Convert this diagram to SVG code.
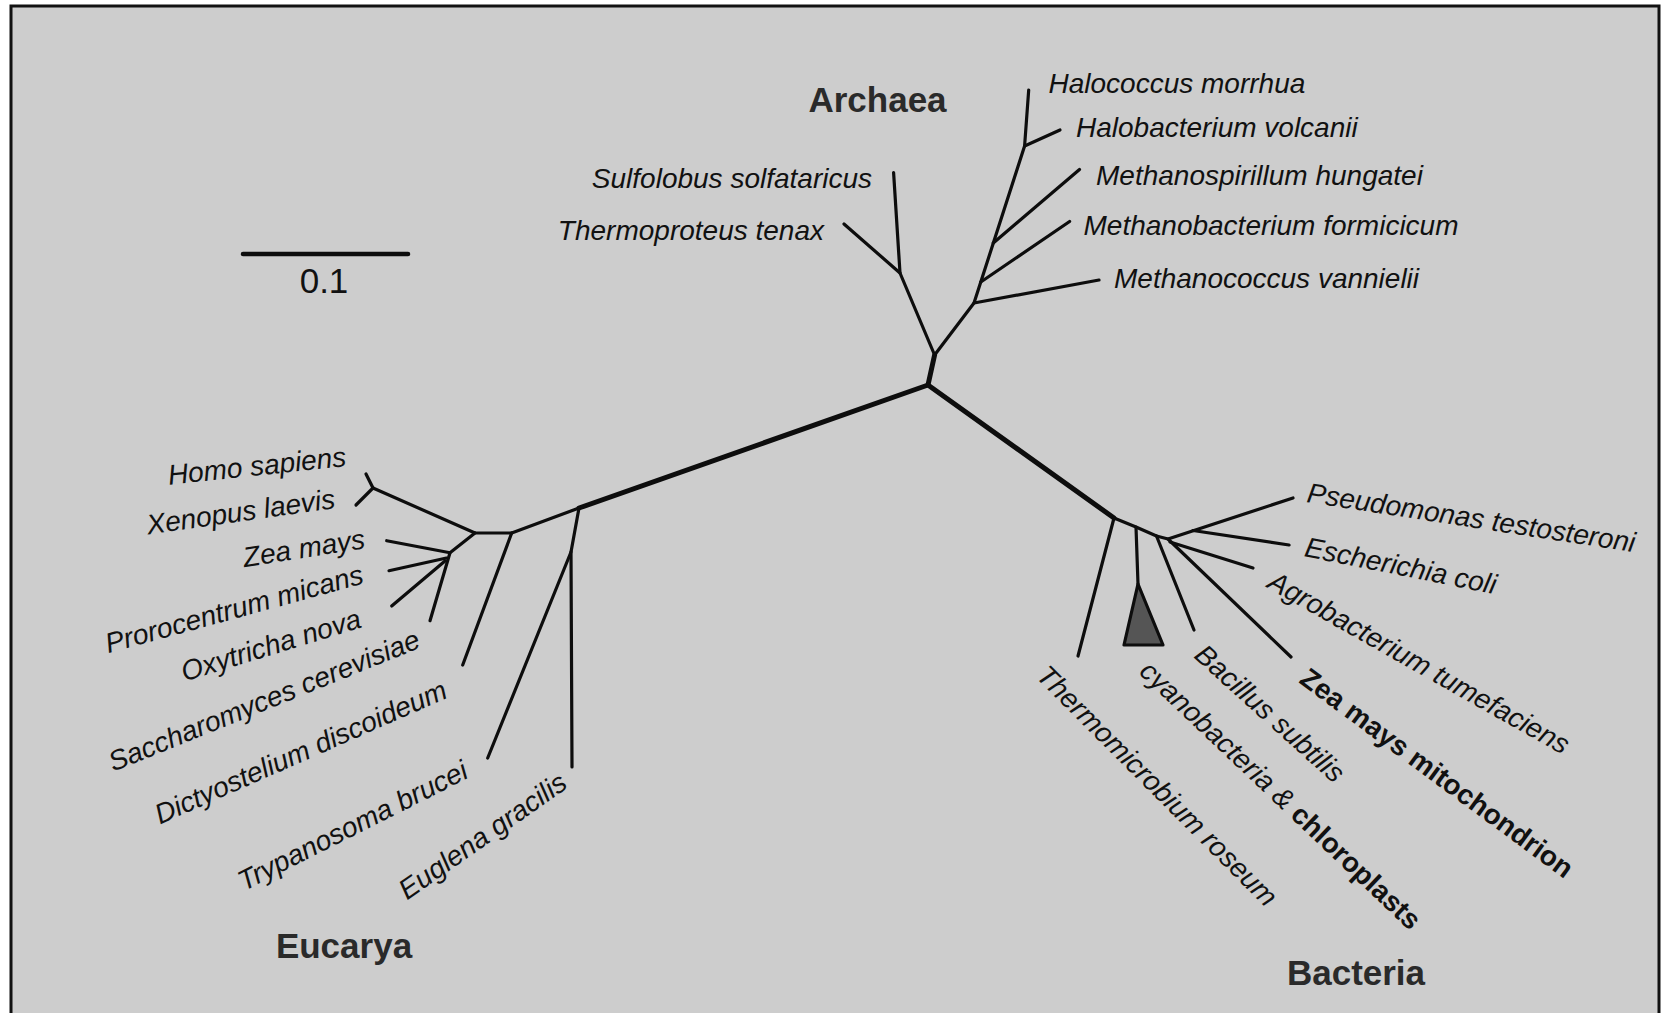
<svg xmlns="http://www.w3.org/2000/svg" width="1661" height="1013" viewBox="0 0 1661 1013">
  <style>
    .frame { fill: #cdcdcd; stroke: #111; stroke-width: 3; }
    .br { fill: none; stroke: #0d0d0d; stroke-width: 3.2; stroke-linecap: round; stroke-linejoin: round; }
    .trunk { fill: none; stroke: #0d0d0d; stroke-width: 5; stroke-linecap: round; stroke-linejoin: round; }
    .tri { fill: #555; stroke: #0d0d0d; stroke-width: 3.2; stroke-linejoin: round; }
    .sp { font-family: "Liberation Sans", Arial, sans-serif; font-size: 28px; font-style: italic; fill: #111; }
    .b { font-weight: bold; font-style: normal; }
    .dom { font-family: "Liberation Sans", Arial, sans-serif; font-size: 35px; font-weight: bold; fill: #2a2a2a; }
    .end { text-anchor: end; }
  </style>

  <rect x="0" y="0" width="1661" height="1013" fill="#ffffff"/>
  <rect class="frame" x="11" y="6" width="1648" height="1030"/>

  <!-- scale bar -->
  <g id="scale-bar">
    <line x1="243" y1="254" x2="408" y2="254" stroke="#0d0d0d" stroke-width="4.5" stroke-linecap="round"/>
    <text x="324" y="293" text-anchor="middle" font-family="'Liberation Sans', Arial, sans-serif" font-size="35" fill="#111">0.1</text>
  </g>

  <!-- tree branches -->
  <g id="branches">
    <!-- central trunks -->
    <polyline class="trunk" points="934.6,355 928,385 579,508"/>
    <polyline class="trunk" points="928,385 1114,518"/>

    <!-- Archaea -->
    <polyline class="br" points="934.6,355 900,273 893.6,172.7"/>
    <line class="br" x1="900" y1="273" x2="844" y2="224"/>
    <polyline class="br" points="934.6,355 974,303 1024.6,146 1028.7,90"/>
    <line class="br" x1="974" y1="303" x2="1099" y2="280"/>
    <line class="br" x1="980.8" y1="282" x2="1069.6" y2="221.5"/>
    <line class="br" x1="993.3" y1="243" x2="1079.5" y2="169.5"/>
    <line class="br" x1="1024.6" y1="146" x2="1060" y2="130"/>

    <!-- Eucarya -->
    <polyline class="br" points="579,508 511.7,533 475,533 373,488"/>
    <line class="br" x1="373" y1="488" x2="366" y2="474"/>
    <line class="br" x1="373" y1="488" x2="356" y2="505"/>
    <polyline class="br" points="475,533 450,552.7 430,620.7"/>
    <line class="br" x1="450" y1="552.7" x2="386.7" y2="540.7"/>
    <line class="br" x1="446.5" y1="558" x2="389" y2="570.7"/>
    <line class="br" x1="445" y1="561" x2="391.7" y2="606"/>
    <line class="br" x1="511.7" y1="533" x2="462.7" y2="665"/>
    <polyline class="br" points="579,508 571,552 572,767"/>
    <line class="br" x1="571" y1="552" x2="487.7" y2="758"/>

    <!-- Bacteria -->
    <polyline class="br" points="1114,518 1136,527 1156.5,536 1168,539 1291,657"/>
    <line class="br" x1="1114" y1="518" x2="1078" y2="656"/>
    <line class="br" x1="1136" y1="527" x2="1138" y2="584"/>
    <polygon class="tri" points="1138,584 1124,645 1163,645"/>
    <line class="br" x1="1156.5" y1="536" x2="1194" y2="630"/>
    <line class="br" x1="1168" y1="539" x2="1293" y2="498"/>
    <line class="br" x1="1193" y1="530.5" x2="1289" y2="545"/>
    <line class="br" x1="1170" y1="542" x2="1253" y2="568"/>
  </g>

  <!-- domain labels -->
  <g id="domain-archaea"><text class="dom" x="877.5" y="112" text-anchor="middle">Archaea</text></g>
  <g id="domain-eucarya"><text class="dom" x="344" y="958" text-anchor="middle">Eucarya</text></g>
  <g id="domain-bacteria"><text class="dom" x="1356" y="985" text-anchor="middle">Bacteria</text></g>

  <!-- Archaea taxa -->
  <g id="sulfolobus"><text class="sp end" x="872" y="188">Sulfolobus solfataricus</text></g>
  <g id="thermoproteus"><text class="sp end" x="824" y="240">Thermoproteus tenax</text></g>
  <g id="halococcus"><text class="sp" x="1048.5" y="93">Halococcus morrhua</text></g>
  <g id="halobacterium"><text class="sp" x="1076" y="137">Halobacterium volcanii</text></g>
  <g id="methanospirillum"><text class="sp" x="1096" y="185">Methanospirillum hungatei</text></g>
  <g id="methanobacterium"><text class="sp" x="1083.5" y="235">Methanobacterium formicicum</text></g>
  <g id="methanococcus"><text class="sp" x="1114" y="288">Methanococcus vannielii</text></g>

  <!-- Eucarya taxa -->
  <g id="homo"><text class="sp end" transform="translate(347,466) rotate(-6)">Homo sapiens</text></g>
  <g id="xenopus"><text class="sp end" transform="translate(336,508) rotate(-8)">Xenopus laevis</text></g>
  <g id="zea"><text class="sp end" transform="translate(366,548) rotate(-9)">Zea mays</text></g>
  <g id="prorocentrum"><text class="sp end" transform="translate(365,583) rotate(-15.3)">Prorocentrum micans</text></g>
  <g id="oxytricha"><text class="sp end" transform="translate(363,627) rotate(-17)">Oxytricha nova</text></g>
  <g id="saccharomyces"><text class="sp end" transform="translate(422,647) rotate(-22)">Saccharomyces cerevisiae</text></g>
  <g id="dictyostelium"><text class="sp end" transform="translate(449,697) rotate(-23.8)">Dictyostelium discoideum</text></g>
  <g id="trypanosoma"><text class="sp end" transform="translate(470,777) rotate(-26.8)">Trypanosoma brucei</text></g>
  <g id="euglena"><text class="sp end" transform="translate(569,787) rotate(-35)">Euglena gracilis</text></g>

  <!-- Bacteria taxa -->
  <g id="pseudomonas"><text class="sp" transform="translate(1306,502) rotate(8.7)">Pseudomonas testosteroni</text></g>
  <g id="escherichia"><text class="sp" transform="translate(1303.5,556) rotate(11.3)">Escherichia coli</text></g>
  <g id="agrobacterium"><text class="sp" transform="translate(1266,587) rotate(29.5)">Agrobacterium tumefaciens</text></g>
  <g id="zea-mitochondrion"><text class="sp b" transform="translate(1298,682) rotate(36.5)">Zea mays mitochondrion</text></g>
  <g id="bacillus"><text class="sp" transform="translate(1193,657) rotate(42)">Bacillus subtilis</text></g>
  <g id="cyanobacteria"><text class="sp" transform="translate(1138,673) rotate(43.5)">cyanobacteria &amp; <tspan class="b">chloroplasts</tspan></text></g>
  <g id="thermomicrobium"><text class="sp" transform="translate(1035,677) rotate(45)">Thermomicrobium roseum</text></g>
</svg>
